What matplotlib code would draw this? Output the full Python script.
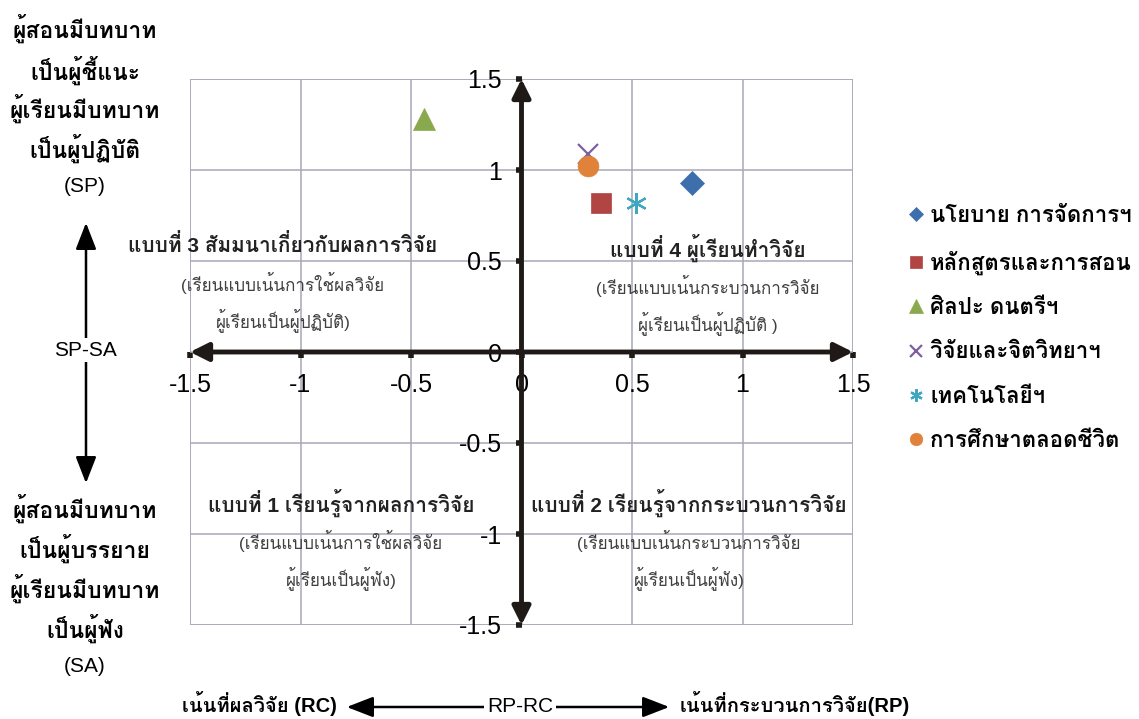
import numpy as np
import matplotlib
matplotlib.use("Agg")
import matplotlib.pyplot as plt
from matplotlib.patches import FancyArrowPatch, Rectangle

# ---- data ----
groups = ["นโยบาย การจัดการฯ", "หลักสูตรและการสอน", "ศิลปะ ดนตรีฯ",
          "วิจัยและจิตวิทยาฯ", "เทคโนโลยีฯ", "การศึกษาตลอดชีวิต"]
rp_rc = [0.77, 0.36, -0.44, 0.30, 0.52, 0.30]
sp_sa = [0.93, 0.82, 1.28, 1.09, 0.82, 1.02]

tick_vals = [-1.5, -1.0, -0.5, 0.0, 0.5, 1.0, 1.5]
tick_labels = ["-1.5", "-1", "-0.5", "0", "0.5", "1", "1.5"]

quad_titles = ["แบบที่ 3 สัมมนาเกี่ยวกับผลการวิจัย", "แบบที่ 4 ผู้เรียนทำวิจัย",
               "แบบที่ 1 เรียนรู้จากผลการวิจัย", "แบบที่ 2 เรียนรู้จากกระบวนการวิจัย"]
quad_notes = [["(เรียนแบบเน้นการใช้ผลวิจัย", "ผู้เรียนเป็นผู้ปฏิบัติ)"],
              ["(เรียนแบบเน้นกระบวนการวิจัย", "ผู้เรียนเป็นผู้ปฏิบัติ )"],
              ["(เรียนแบบเน้นการใช้ผลวิจัย", "ผู้เรียนเป็นผู้ฟัง)"],
              ["(เรียนแบบเน้นกระบวนการวิจัย", "ผู้เรียนเป็นผู้ฟัง)"]]

top_label = ["ผู้สอนมีบทบาท", "เป็นผู้ชี้แนะ", "ผู้เรียนมีบทบาท", "เป็นผู้ปฏิบัติ"]
bottom_label = ["ผู้สอนมีบทบาท", "เป็นผู้บรรยาย", "ผู้เรียนมีบทบาท", "เป็นผู้ฟัง"]

COLORS = ["#3e6fad", "#b04543", "#8aa84e", "#7d60a0", "#3fa8c0", "#e0823a"]
MARKERS = ["D", "s", "^", "x", (6, 2, 0), "o"]
SIZES = [12, 14, 16, 14, 15, 15]

DARK = "#1f1a17"
GRID = "#a8a8b8"
# Loma places Thai tone marks correctly without shaping
plt.rcParams["font.family"] = ["Liberation Sans", "Loma", "DejaVu Sans"]

W, H = 1139, 719


def px(x, y):
    return x / W, 1 - y / H


fig = plt.figure(figsize=(W / 100, H / 100), dpi=100)
ax = fig.add_axes([190 / W, 1 - 625 / H, (853 - 190) / W, (625 - 79) / H])
ax.set_xlim(-1.5, 1.5)
ax.set_ylim(-1.5, 1.5)

ax.set_xticks(tick_vals)
ax.set_xticklabels(tick_labels)
ax.set_yticks(tick_vals)
ax.set_yticklabels(tick_labels)
ax.grid(True, color=GRID, linewidth=1.1, zorder=0)
ax.set_axisbelow(True)
ax.add_patch(Rectangle((0, 0), 1, 1, transform=ax.transAxes, fill=False,
                       edgecolor=GRID, linewidth=1.1, zorder=0.5))

for side in ["top", "right"]:
    ax.spines[side].set_visible(False)
for side in ["left", "bottom"]:
    ax.spines[side].set_position("zero")
    ax.spines[side].set_linewidth(0)
ax.tick_params(direction="out", length=4, width=4, color=DARK,
               labelsize=18, labelcolor="black")
ax.tick_params(axis="x", pad=11)
ax.tick_params(axis="y", pad=10)

# thick cross axes with arrow heads
arrow_kw = dict(arrowstyle="<|-|>,head_length=1.1,head_width=0.55",
                color=DARK, lw=3.5, shrinkA=0, shrinkB=0)
ax.annotate("", xy=(1.5, 0), xytext=(-1.5, 0), arrowprops=arrow_kw, zorder=3)
ax.annotate("", xy=(0, 1.5), xytext=(0, -1.5), arrowprops=arrow_kw, zorder=3)

# data points
for name, x, y, c, m, s in zip(groups, rp_rc, sp_sa, COLORS, MARKERS, SIZES):
    thin = m in ("x", (6, 2, 0))
    ax.plot([x], [y], linestyle="none", marker=m, markersize=s, color=c,
            markeredgewidth=1.6 if thin else 0.5, label=name, zorder=5)

ax.legend(loc="upper left", bbox_to_anchor=(888 / W, 1 - 186 / H),
          bbox_transform=fig.transFigure, frameon=False, markerscale=0.6,
          handlelength=0.7, handletextpad=0.3, labelspacing=1.05,
          prop={"size": 16, "weight": "bold"})

# quadrant captions
title_pos = [(283, 245), (708, 248), (341, 503), (689, 503)]
for title, notes, (tx, ty) in zip(quad_titles, quad_notes, title_pos):
    fig.text(*px(tx, ty), title, ha="center", va="center", fontsize=15,
             fontweight="bold", color="#222222")
    fig.text(*px(tx, ty + 38), notes[0], ha="center", va="center",
             fontsize=12.3, color="#404040")
    fig.text(*px(tx, ty + 75), notes[1], ha="center", va="center",
             fontsize=12.3, color="#404040")

# left side labels
for txt, y in zip(top_label, [28, 70, 108, 148]):
    fig.text(*px(85, y), txt, ha="center", va="center", fontsize=16.5,
             fontweight="bold")
fig.text(*px(85, 187), "(SP)", ha="center", va="center", fontsize=15)
for txt, y in zip(bottom_label, [508, 548, 588, 628]):
    fig.text(*px(85, y), txt, ha="center", va="center", fontsize=16.5,
             fontweight="bold")
fig.text(*px(85, 667), "(SA)", ha="center", va="center", fontsize=15)

side_style = "<|-|>,head_length=0.9,head_width=0.35"
fig.add_artist(FancyArrowPatch(px(86, 220), px(86, 486), transform=fig.transFigure,
                               arrowstyle=side_style, mutation_scale=18,
                               color="black", lw=1.8))
fig.text(*px(85, 350), "SP-SA", ha="center", va="center", fontsize=15,
         bbox=dict(facecolor="white", edgecolor="none", pad=2))

# bottom axis caption
fig.add_artist(FancyArrowPatch(px(344, 707), px(672, 707), transform=fig.transFigure,
                               arrowstyle=side_style, mutation_scale=18,
                               color="black", lw=1.8))
fig.text(*px(520, 707), "RP-RC", ha="center", va="center", fontsize=15,
         bbox=dict(facecolor="white", edgecolor="none", pad=2))
fig.text(*px(337, 703), "เน้นที่ผลวิจัย (RC)", ha="right", va="center",
         fontsize=14.5, fontweight="bold")
fig.text(*px(680, 703), "เน้นที่กระบวนการวิจัย(RP)", ha="left", va="center",
         fontsize=14.5, fontweight="bold")

fig.savefig("out.png", dpi=100)
